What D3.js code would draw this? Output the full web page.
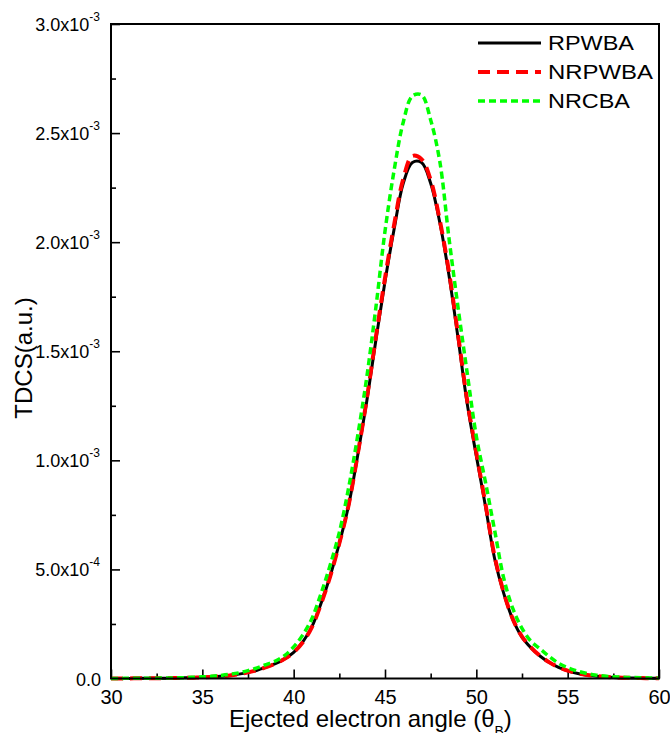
<!DOCTYPE html>
<html>
<head>
<meta charset="utf-8">
<script src="https://cdn.jsdelivr.net/npm/d3@7"></script>
<style>
  html, body { margin: 0; padding: 0; background: #fff; }
  svg { display: block; font-family: "Liberation Sans", Arial, Helvetica, sans-serif; }
</style>
</head>
<body>
<svg id="chart" width="670" height="733"></svg>
<script>
// ---- Data (TDCS in units of 1e-3 a.u.) ----
const theta = [30,30.5,31,31.5,32,32.5,33,33.5,34,34.5,35,35.5,36,36.5,37,37.5,38,38.5,39,39.5,
  40,40.5,41,41.5,42,42.5,43,43.5,44,44.5,45,45.5,46,46.5,47,47.5,48,48.5,49,49.5,
  50,50.5,51,51.5,52,52.5,53,53.5,54,54.5,55,55.5,56,56.5,57,57.5,58,58.5,59,59.5,60];

const rpwba = [0.0003,0.0004,0.0005,0.0007,0.0009,0.0012,0.0016,0.0022,0.003,0.004,
  0.0055,0.0075,0.010,0.014,0.020,0.028,0.038,0.052,0.068,0.090,
  0.120,0.168,0.238,0.345,0.470,0.620,0.790,1.020,1.270,1.550,
  1.820,2.060,2.270,2.365,2.365,2.270,2.090,1.850,1.560,1.260,
  1.020,0.790,0.550,0.390,0.270,0.190,0.140,0.102,0.073,0.051,
  0.035,0.024,0.016,0.011,0.0075,0.005,0.0035,0.0025,0.0018,0.0013,0.001];

const nrpwba = [0.0003,0.0004,0.0005,0.0007,0.0009,0.0012,0.0016,0.0022,0.003,0.004,
  0.0055,0.0075,0.010,0.014,0.020,0.028,0.038,0.052,0.068,0.090,
  0.120,0.166,0.236,0.342,0.468,0.620,0.792,1.025,1.280,1.565,
  1.835,2.080,2.290,2.395,2.380,2.285,2.100,1.865,1.575,1.275,
  1.035,0.800,0.560,0.395,0.272,0.192,0.142,0.103,0.074,0.052,
  0.036,0.025,0.017,0.0115,0.008,0.0055,0.0038,0.0027,0.0019,0.0014,0.001];

const nrcba = [0.0004,0.0005,0.0007,0.0009,0.0012,0.0016,0.0022,0.003,0.004,0.0055,
  0.0075,0.010,0.014,0.019,0.026,0.036,0.049,0.064,0.080,0.105,
  0.145,0.200,0.275,0.390,0.520,0.670,0.870,1.110,1.380,1.700,
  2.050,2.330,2.550,2.670,2.675,2.560,2.370,2.020,1.700,1.400,
  1.110,0.900,0.680,0.460,0.320,0.230,0.170,0.135,0.100,0.070,
  0.050,0.035,0.024,0.016,0.011,0.008,0.006,0.0045,0.0035,0.0027,0.002];

const UNIT = 1e-3;
const seriesNames = ["RPWBA", "NRPWBA", "NRCBA"];
const xTicks = [30, 35, 40, 45, 50, 55, 60];
const xMinorTicks = [32.5, 37.5, 42.5, 47.5, 52.5, 57.5];
const yTicks = [0, 0.5e-3, 1.0e-3, 1.5e-3, 2.0e-3, 2.5e-3, 3.0e-3];
const yMinorTicks = [0.25e-3, 0.75e-3, 1.25e-3, 1.75e-3, 2.25e-3, 2.75e-3];
const yTickMantissa = ["0.0", "5.0x10", "1.0x10", "1.5x10", "2.0x10", "2.5x10", "3.0x10"];
const yTickExponent = ["", "-4", "-3", "-3", "-3", "-3", "-3"];

// ---- Layout ----
const svg = d3.select("#chart");
const L = 111, R = 659, T = 24, B = 678.5;

const x = d3.scaleLinear().domain([30, 60]).range([L, R]);
const y = d3.scaleLinear().domain([0, 3e-3]).range([B, T]);

// Axes (inward ticks)
const gx = svg.append("g").attr("transform", `translate(0,${B})`)
  .call(d3.axisBottom(x).tickValues(xTicks).tickSize(-9).tickPadding(11).tickFormat(d3.format("d")));
gx.select(".domain").remove();
gx.selectAll(".tick line").attr("stroke", "#000").attr("stroke-width", 1.6);
gx.selectAll(".tick text").attr("font-size", 20).attr("fill", "#000")
  .attr("font-family", "'Liberation Sans', Arial, sans-serif");

const gxm = svg.append("g").attr("transform", `translate(0,${B})`)
  .call(d3.axisBottom(x).tickValues(xMinorTicks).tickSize(-5).tickFormat(""));
gxm.select(".domain").remove();
gxm.selectAll(".tick line").attr("stroke", "#000").attr("stroke-width", 1.6);

const gy = svg.append("g").attr("transform", `translate(${L},0)`)
  .call(d3.axisLeft(y).tickValues(yTicks).tickSize(-9).tickFormat(""));
gy.select(".domain").remove();
gy.selectAll(".tick line").attr("stroke", "#000").attr("stroke-width", 1.6);

const gym = svg.append("g").attr("transform", `translate(${L},0)`)
  .call(d3.axisLeft(y).tickValues(yMinorTicks).tickSize(-5).tickFormat(""));
gym.select(".domain").remove();
gym.selectAll(".tick line").attr("stroke", "#000").attr("stroke-width", 1.6);

// Y tick labels with superscript exponents
yTicks.forEach((v, i) => {
  const hasExp = yTickExponent[i] !== "";
  const t = svg.append("text")
    .attr("y", y(v) + 7)
    .attr("font-size", 18)
    .attr("fill", "#000");
  if (hasExp) {
    t.attr("x", 100).attr("text-anchor", "end");
    t.append("tspan").text(yTickMantissa[i]);
    t.append("tspan").attr("font-size", 12).attr("dy", -10).text(yTickExponent[i]);
  } else {
    t.attr("x", 101).attr("text-anchor", "end").text(yTickMantissa[i]);
  }
});

// Curves
const line = d3.line()
  .x((d, i) => x(theta[i]))
  .y(d => y(d * UNIT))
  .curve(d3.curveCatmullRom.alpha(0.5));

const styles = [
  { data: rpwba, color: "#000000", width: 3, dash: null },
  { data: nrpwba, color: "#ff0000", width: 4, dash: "12,7" },
  { data: nrcba, color: "#00ff00", width: 3.5, dash: "7,4" }
];

styles.forEach(s => {
  const p = svg.append("path")
    .datum(s.data)
    .attr("d", line)
    .attr("fill", "none")
    .attr("stroke", s.color)
    .attr("stroke-width", s.width);
  if (s.dash) p.attr("stroke-dasharray", s.dash);
});

// Frame
svg.append("rect")
  .attr("x", L).attr("y", T)
  .attr("width", R - L).attr("height", B - T)
  .attr("fill", "none").attr("stroke", "#000").attr("stroke-width", 2);

// Legend
const legendY = [43, 72, 101];
const legendTextLen = [86, 105, 82];
seriesNames.forEach((name, i) => {
  const s = styles[i];
  const ln = svg.append("line")
    .attr("x1", 478).attr("x2", 541)
    .attr("y1", legendY[i]).attr("y2", legendY[i])
    .attr("stroke", s.color).attr("stroke-width", s.width);
  if (s.dash) ln.attr("stroke-dasharray", s.dash);
  svg.append("text")
    .attr("x", 548).attr("y", legendY[i] + 7)
    .attr("font-size", 21)
    .attr("textLength", legendTextLen[i])
    .attr("lengthAdjust", "spacingAndGlyphs")
    .attr("fill", "#000")
    .text(name);
});

// Axis titles
const xt = svg.append("text")
  .attr("x", 229).attr("y", 727)
  .attr("font-size", 24).attr("fill", "#000");
xt.append("tspan").text("Ejected electron angle (\u03B8");
xt.append("tspan").attr("font-size", 14).attr("dy", 9).text("B");
xt.append("tspan").attr("dy", -9).text(")");

svg.append("text")
  .attr("transform", "translate(32,358) rotate(-90)")
  .attr("text-anchor", "middle")
  .attr("font-size", 24).attr("fill", "#000")
  .text("TDCS(a.u.)");
</script>
</body>
</html>
